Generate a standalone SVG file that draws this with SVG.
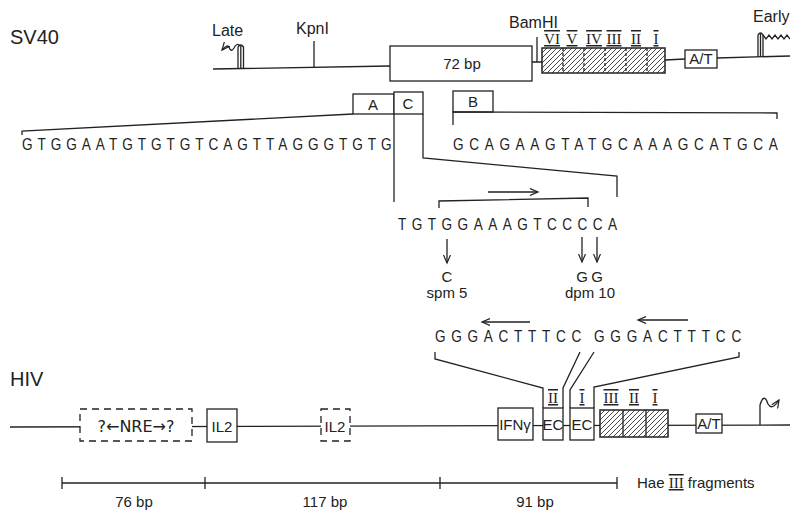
<svg xmlns="http://www.w3.org/2000/svg" width="790" height="512" viewBox="0 0 790 512">
<style>
  .ln{fill:none;stroke:#222;stroke-width:1.3}
  .bx{fill:#fff;stroke:#222;stroke-width:1.3}
  .dbx{fill:#fff;stroke:#222;stroke-width:1.3;stroke-dasharray:7,5}
  .hb{fill:url(#hatch);stroke:#222;stroke-width:1.5}
  .t{font-family:"Liberation Sans",Arial,sans-serif;fill:#222;font-size:15px}
  .lab{font-size:16px}
  .big{font-size:20px}
  .seq{font-family:"Liberation Sans",Arial,sans-serif;fill:#222;font-size:17px}
  .rom{font-family:"Liberation Serif","Times New Roman",serif;fill:#222;font-size:15px;text-decoration:overline underline}
  .arr{font-family:"DejaVu Sans",sans-serif;font-size:16px;fill:#222}
  .m{text-anchor:middle}
</style>
<defs>
  <pattern id="hatch" patternUnits="userSpaceOnUse" width="5" height="5">
    <rect width="5" height="5" fill="#fff"/>
    <path d="M-1,1 L1,-1 M0,5 L5,0 M4,6 L6,4" stroke="#333" stroke-width="0.9"/>
  </pattern>
  <marker id="ah" markerUnits="userSpaceOnUse" markerWidth="10" markerHeight="8" refX="8" refY="4" orient="auto">
    <path d="M0,0.5 L8,4 L0,7.5" fill="none" stroke="#222" stroke-width="1.2"/>
  </marker>
</defs>
<rect width="790" height="512" fill="#fff"/>

<!-- titles -->
<text class="t big" x="10" y="44">SV40</text>
<text class="t big" x="10" y="386">HIV</text>

<!-- SV40 map -->
<g id="sv40-backbone">
  <path class="ln" d="M213,69 L390,66 M532,62 L542,62 M665,60 L685,59 M717,58 L790,56"/>
</g>
<g id="sv40-late">
  <text class="t lab" x="212" y="36">Late</text>
  <path class="ln" d="M238,69 V47 Q240.5,43 243.5,47 V69 M240.8,69 V46"/>
  <path class="ln" d="M240,46 Q237,42 234,48 Q231,53 229,47 Q227,44 222,50" marker-end="url(#ah)"/>
</g>
<g id="sv40-kpni">
  <text class="t lab" x="296" y="34">KpnI</text>
  <path class="ln" d="M314,41 V68"/>
</g>
<g id="sv40-72bp">
  <rect class="bx" x="390" y="46" width="142" height="35"/>
  <text class="t m" x="462" y="69" font-size="16">72 bp</text>
</g>
<g id="sv40-bamhi">
  <text class="t lab" x="509" y="28">BamHI</text>
  <path class="ln" d="M537,37 V62"/>
</g>
<g id="sv40-gc">
  <rect class="hb" x="542" y="48" width="123" height="25"/>
  <path class="ln" d="M563,48 V73 M584,48 V73 M605,48 V73 M626,48 V73 M647,48 V73" stroke-dasharray="3,2"/>
  <text class="rom m" x="552" y="44">VI</text>
  <text class="rom m" x="572" y="44">V</text>
  <text class="rom m" x="594" y="44">IV</text>
  <text class="rom m" x="614" y="44">III</text>
  <text class="rom m" x="636" y="44">II</text>
  <text class="rom m" x="656" y="44">I</text>
</g>
<g id="sv40-at">
  <rect class="bx" x="685" y="50" width="32" height="18"/>
  <text class="t m" x="701" y="64" font-size="13">A/T</text>
</g>
<g id="sv40-early">
  <text class="t lab" x="753" y="22">Early</text>
  <path class="ln" d="M758,57 V35 Q760.5,31 763,35 V57 M760.5,57 V34"/>
  <path class="ln" d="M763,35 l3,4 l3,-4 l3,4 l3,-4 l3,4 l3,-4 l3,4 l3,-4 l3,4"/>
</g>

<!-- SV40 sequence boxes -->
<g id="box-a">
  <rect class="bx" x="353" y="94" width="41" height="20"/>
  <text class="t m" x="373" y="110">A</text>
</g>
<g id="box-c">
  <rect class="bx" x="394" y="92" width="29" height="22"/>
  <text class="t m" x="408" y="109">C</text>
</g>
<g id="box-b">
  <rect class="bx" x="453" y="91" width="40" height="21"/>
  <text class="t m" x="473" y="107">B</text>
</g>

<!-- sequences -->
<g id="seq-left">
  <text class="seq" transform="translate(22,150) scale(0.8,1)" x="0" y="0" textLength="462" lengthAdjust="spacing">GTGGAATGTGTGTCAGTTAGGGTGTG</text>
</g>
<g id="seq-right">
  <text class="seq" transform="translate(453,150) scale(0.8,1)" x="0" y="0" textLength="406" lengthAdjust="spacing">GCAGAAGTATGCAAAGCATGCA</text>
</g>
<g id="seq-mid">
  <text class="seq" transform="translate(398,230) scale(0.8,1)" x="0" y="0" textLength="274" lengthAdjust="spacing">TGTGGAAAGTCCCCA</text>
</g>
<g id="mutations">
  <text class="t m" x="447" y="282">C</text>
  <text class="t m" x="447" y="298">spm 5</text>
  <text class="t m" x="582" y="282">G</text>
  <text class="t m" x="597" y="282">G</text>
  <text class="t m" x="590" y="298">dpm 10</text>
</g>
<g id="seq-hiv">
  <text class="seq" transform="translate(435,342) scale(0.8,1)" x="0" y="0" textLength="183" lengthAdjust="spacing">GGGACTTTCC</text>
  <text class="seq" transform="translate(594,342) scale(0.8,1)" x="0" y="0" textLength="184" lengthAdjust="spacing">GGGACTTTCC</text>
</g>

<!-- HIV map -->
<g id="hiv-backbone">
  <path class="ln" d="M10,427 L790,425"/>
</g>
<g id="hiv-nre">
  <rect class="dbx" x="80" y="409" width="112" height="32"/>
  <text class="arr m" x="136" y="432">?←NRE→?</text>
</g>
<g id="hiv-il2a">
  <rect class="bx" x="207" y="409" width="30" height="33"/>
  <text class="t m" x="222" y="432" font-size="16">IL2</text>
</g>
<g id="hiv-il2b">
  <rect class="dbx" x="321" y="409" width="29" height="32"/>
  <text class="t m" x="335" y="432" font-size="16">IL2</text>
</g>
<g id="hiv-ifn">
  <rect class="bx" x="498" y="408" width="35" height="32"/>
  <text class="t m" x="515" y="430" font-size="14">IFNγ</text>
</g>
<g id="hiv-ec2">
  <rect class="bx" x="543" y="408" width="20" height="32"/>
  <text class="t m" x="553" y="430" font-size="14">EC</text>
  <text class="rom m" x="553" y="403">II</text>
</g>
<g id="hiv-ec1">
  <rect class="bx" x="570" y="408" width="24" height="32"/>
  <text class="t m" x="582" y="430" font-size="14">EC</text>
  <text class="rom m" x="582" y="403">I</text>
</g>
<g id="hiv-gc">
  <rect class="hb" x="600" y="410" width="68" height="27"/>
  <path class="ln" d="M623,410 V437 M646,410 V437"/>
  <text class="rom m" x="611" y="403">III</text>
  <text class="rom m" x="634" y="403">II</text>
  <text class="rom m" x="655" y="403">I</text>
</g>
<g id="hiv-at">
  <rect class="bx" x="696" y="414" width="26" height="19"/>
  <text class="t m" x="709" y="429" font-size="13">A/T</text>
</g>
<g id="hiv-tss">
  <path class="ln" d="M760,425 V405 Q764,392 768,404 Q772,411 779,400" marker-end="url(#ah)"/>
</g>

<!-- scale bar -->
<g id="scale">
  <path class="ln" d="M62,483 H617 M62,477 V489 M205,477 V489 M440,477 V489 M617,477 V489"/>
  <text class="t m" x="134" y="507">76 bp</text>
  <text class="t m" x="325" y="507">117 bp</text>
  <text class="t m" x="535" y="507">91 bp</text>
  <text class="t" x="637" y="488">Hae <tspan class="rom">III</tspan> fragments</text>
</g>

<!-- connectors -->
<g id="connectors">
  <path class="ln" d="M22,135 V131 L353,114"/>
  <path class="ln" d="M394,114 V202"/>
  <path class="ln" d="M423,114 V158 L617,176 V197"/>
  <path class="ln" d="M453,125 V112 L777,113 V119"/>
  <path class="ln" d="M439,208 V201 L588,198 V207"/>
  <path class="ln" d="M488,192 H538" marker-end="url(#ah)"/>
  <path class="ln" d="M447,239 V263" marker-end="url(#ah)"/>
  <path class="ln" d="M582,237 V262" marker-end="url(#ah)"/>
  <path class="ln" d="M597,237 V262" marker-end="url(#ah)"/>
  <path class="ln" d="M530,322 H482" marker-end="url(#ah)"/>
  <path class="ln" d="M688,320 H638" marker-end="url(#ah)"/>
  <path class="ln" d="M435,352 V359 L543,388 V408"/>
  <path class="ln" d="M580,352 L563,388 V408"/>
  <path class="ln" d="M594,352 L570,390 V408"/>
  <path class="ln" d="M739,352 V357 L594,387 V408"/>
</g>
</svg>
